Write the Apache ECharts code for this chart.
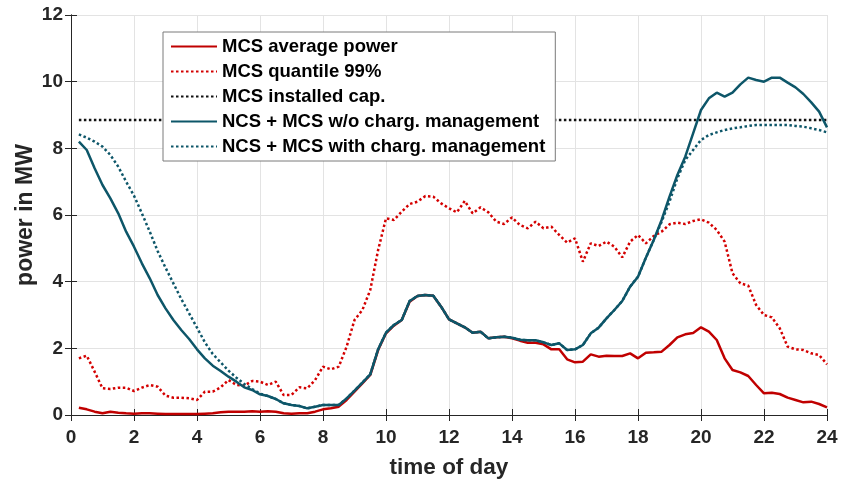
<!DOCTYPE html>
<html>
<head>
<meta charset="utf-8">
<script src="https://cdn.jsdelivr.net/npm/echarts@6/dist/echarts.min.js"></script>
<style>
  html, body { margin: 0; padding: 0; background: #fff; }
  #chart { width: 844px; height: 479px; }
</style>
</head>
<body>
<div id="chart"></div>
<script>
// time of day in hours (15 min resolution)
const hours = [
  0.25, 0.5, 0.75, 1, 1.25, 1.5, 1.75, 2, 2.25, 2.5, 2.75, 3,
  3.25, 3.5, 3.75, 4, 4.25, 4.5, 4.75, 5, 5.25, 5.5, 5.75, 6,
  6.25, 6.5, 6.75, 7, 7.25, 7.5, 7.75, 8, 8.25, 8.5, 8.75, 9,
  9.25, 9.5, 9.75, 10, 10.25, 10.5, 10.75, 11, 11.25, 11.5, 11.75, 12,
  12.25, 12.5, 12.75, 13, 13.25, 13.5, 13.75, 14, 14.25, 14.5, 14.75, 15,
  15.25, 15.5, 15.75, 16, 16.25, 16.5, 16.75, 17, 17.25, 17.5, 17.75, 18,
  18.25, 18.5, 18.75, 19, 19.25, 19.5, 19.75, 20, 20.25, 20.5, 20.75, 21,
  21.25, 21.5, 21.75, 22, 22.25, 22.5, 22.75, 23, 23.25, 23.5, 23.75, 24
]

const mcsAverage = [
  0.22, 0.17, 0.10, 0.05, 0.10, 0.07, 0.05, 0.04, 0.05, 0.05, 0.04, 0.03,
  0.03, 0.03, 0.03, 0.03, 0.04, 0.05, 0.08, 0.10, 0.10, 0.10, 0.11, 0.10,
  0.11, 0.10, 0.05, 0.04, 0.05, 0.05, 0.10, 0.17, 0.20, 0.25, 0.45, 0.70,
  0.95, 1.20, 1.95, 2.45, 2.68, 2.85, 3.40, 3.57, 3.60, 3.58, 3.25, 2.87,
  2.75, 2.63, 2.47, 2.50, 2.30, 2.33, 2.35, 2.30, 2.23, 2.17, 2.17, 2.12,
  1.97, 1.97, 1.67, 1.58, 1.60, 1.82, 1.75, 1.78, 1.77, 1.77, 1.85, 1.70,
  1.87, 1.88, 1.90, 2.10, 2.33, 2.42, 2.46, 2.63, 2.50, 2.25, 1.70, 1.35,
  1.28, 1.17, 0.90, 0.65, 0.67, 0.63, 0.52, 0.45, 0.38, 0.40, 0.33, 0.23
]

const mcsQuantile99 = [
  1.70, 1.78, 1.30, 0.80, 0.78, 0.82, 0.82, 0.72, 0.82, 0.90, 0.85, 0.58,
  0.52, 0.52, 0.50, 0.45, 0.70, 0.70, 0.83, 1.05, 0.90, 0.88, 1.02, 1.00,
  0.90, 1.00, 0.60, 0.60, 0.83, 0.80, 1.05, 1.45, 1.37, 1.45, 2.05, 2.85,
  3.15, 3.75, 4.95, 5.90, 5.85, 6.10, 6.33, 6.40, 6.57, 6.55, 6.35, 6.20,
  6.08, 6.42, 6.05, 6.23, 6.08, 5.80, 5.73, 5.93, 5.70, 5.60, 5.80, 5.60,
  5.65, 5.40, 5.17, 5.30, 4.60, 5.15, 5.07, 5.20, 5.05, 4.73, 5.20, 5.40,
  5.15, 5.37, 5.50, 5.72, 5.77, 5.73, 5.82, 5.87, 5.77, 5.55, 5.20, 4.25,
  3.95, 3.88, 3.30, 3.00, 2.93, 2.60, 2.05, 1.97, 1.95, 1.85, 1.80, 1.52
]

const mcsInstalledCap = 8.85

const ncsMcsWithout = [
  8.20, 7.95, 7.40, 6.90, 6.50, 6.05, 5.50, 5.05, 4.55, 4.10, 3.60, 3.20,
  2.85, 2.55, 2.28, 1.97, 1.70, 1.48, 1.32, 1.15, 1.00, 0.83, 0.75, 0.62,
  0.57, 0.48, 0.35, 0.30, 0.27, 0.20, 0.25, 0.30, 0.30, 0.30, 0.50, 0.73,
  0.97, 1.22, 1.97, 2.47, 2.70, 2.85, 3.42, 3.57, 3.60, 3.58, 3.25, 2.87,
  2.75, 2.63, 2.47, 2.50, 2.30, 2.33, 2.35, 2.32, 2.26, 2.24, 2.24, 2.18,
  2.10, 2.15, 1.95, 1.97, 2.10, 2.45, 2.62, 2.90, 3.15, 3.42, 3.85, 4.15,
  4.72, 5.25, 5.85, 6.55, 7.20, 7.75, 8.45, 9.15, 9.50, 9.67, 9.55, 9.67,
  9.92, 10.12, 10.05, 10.00, 10.12, 10.12, 9.97, 9.83, 9.63, 9.38, 9.10, 8.63
]

const ncsMcsWith = [
  8.42, 8.32, 8.20, 8.05, 7.80, 7.45, 7.00, 6.58, 6.05, 5.50, 4.92, 4.42,
  3.95, 3.48, 3.05, 2.62, 2.18, 1.83, 1.58, 1.33, 1.12, 0.93, 0.78, 0.64,
  0.57, 0.48, 0.35, 0.30, 0.27, 0.20, 0.25, 0.30, 0.30, 0.30, 0.50, 0.73,
  0.97, 1.22, 1.97, 2.47, 2.70, 2.85, 3.42, 3.57, 3.60, 3.58, 3.25, 2.87,
  2.75, 2.63, 2.47, 2.50, 2.30, 2.33, 2.35, 2.32, 2.26, 2.24, 2.24, 2.18,
  2.10, 2.15, 1.95, 1.97, 2.10, 2.45, 2.62, 2.90, 3.15, 3.42, 3.85, 4.15,
  4.72, 5.25, 5.80, 6.40, 7.10, 7.65, 7.95, 8.25, 8.40, 8.48, 8.55, 8.60,
  8.63, 8.67, 8.70, 8.70, 8.70, 8.70, 8.70, 8.67, 8.65, 8.60, 8.55, 8.48
]

const xTicks = [0, 24, 2]   // min, max, interval
const yTicks = [0, 12, 2]

const seriesNames = [
  'MCS average power',
  'MCS quantile 99%',
  'MCS installed cap.',
  'NCS + MCS w/o charg. management',
  'NCS + MCS with charg. management'
]

const RED = '#c00000'
const TEAL = '#0d5669'
const FONT = 'Liberation Sans, Arial, sans-serif'
const DOT = [2.5, 2.5]

function pairs(vals) {
  return hours.map((h, i) => [h, vals[i]])
}

const chart = echarts.init(document.getElementById('chart'))

function lineSeries(name, data, color, type) {
  return {
    name: name,
    type: 'line',
    data: data,
    symbol: 'none',
    showSymbol: false,
    animation: false,
    lineStyle: { color: color, width: 2.5, type: type },
    itemStyle: { color: color }
  }
}

const frameColor = '#262626'

chart.setOption({
  animation: false,
  grid: { left: 71, right: 17, top: 15, bottom: 64, outerBoundsMode: 'none' },
  legend: {
    orient: 'vertical',
    left: 163,
    top: 32,
    padding: [5, 10, 5, 7],
    itemWidth: 46,
    itemHeight: 14,
    itemGap: 6,
    backgroundColor: '#fff',
    borderColor: '#7a7a7a',
    borderWidth: 1,
    itemStyle: { opacity: 0 },
    textStyle: { fontFamily: FONT, fontWeight: 'bold', fontSize: 18.5, color: '#000' },
    data: seriesNames
  },
  xAxis: [{
    type: 'value',
    min: xTicks[0], max: xTicks[1], interval: xTicks[2],
    name: 'time of day',
    nameLocation: 'middle',
    nameGap: 41,
    nameTextStyle: { fontFamily: FONT, fontWeight: 'bold', fontSize: 22.5, color: '#262626' },
    axisLine: { lineStyle: { color: frameColor, width: 1 } },
    axisTick: { inside: true, length: 6, lineStyle: { color: frameColor } },
    axisLabel: { margin: 13, fontFamily: FONT, fontWeight: 'bold', fontSize: 19, color: '#262626' },
    splitLine: { show: true, lineStyle: { color: '#e3e3e3', width: 1 } }
  }, {
    type: 'value',
    position: 'top',
    min: xTicks[0], max: xTicks[1], interval: xTicks[2],
    axisLine: { show: true, lineStyle: { color: frameColor, width: 1 } },
    axisTick: { inside: true, length: 6, lineStyle: { color: frameColor } },
    axisLabel: { show: false },
    splitLine: { show: false }
  }],
  yAxis: [{
    type: 'value',
    min: yTicks[0], max: yTicks[1], interval: yTicks[2],
    name: 'power in MW',
    nameLocation: 'middle',
    nameGap: 34,
    nameMoveOverlap: false,
    nameTextStyle: { fontFamily: FONT, fontWeight: 'bold', fontSize: 23, color: '#262626' },
    axisLine: { show: true, lineStyle: { color: frameColor, width: 1 } },
    axisTick: { show: true, inside: true, length: 6, lineStyle: { color: frameColor } },
    axisLabel: { margin: 8, fontFamily: FONT, fontWeight: 'bold', fontSize: 19, color: '#262626' },
    splitLine: { show: true, lineStyle: { color: '#e3e3e3', width: 1 } }
  }, {
    type: 'value',
    position: 'right',
    min: yTicks[0], max: yTicks[1], interval: yTicks[2],
    axisLine: { show: true, lineStyle: { color: frameColor, width: 1 } },
    axisTick: { show: true, inside: true, length: 6, lineStyle: { color: frameColor } },
    axisLabel: { show: false },
    splitLine: { show: false }
  }],
  series: [
    lineSeries(seriesNames[0], pairs(mcsAverage), RED, 'solid'),
    lineSeries(seriesNames[1], pairs(mcsQuantile99), '#d40000', DOT),
    lineSeries(seriesNames[2], [[hours[0], mcsInstalledCap], [hours[hours.length - 1], mcsInstalledCap]], '#111', DOT),
    lineSeries(seriesNames[3], pairs(ncsMcsWithout), TEAL, 'solid'),
    lineSeries(seriesNames[4], pairs(ncsMcsWith), TEAL, DOT)
  ]
})
</script>
</body>
</html>
